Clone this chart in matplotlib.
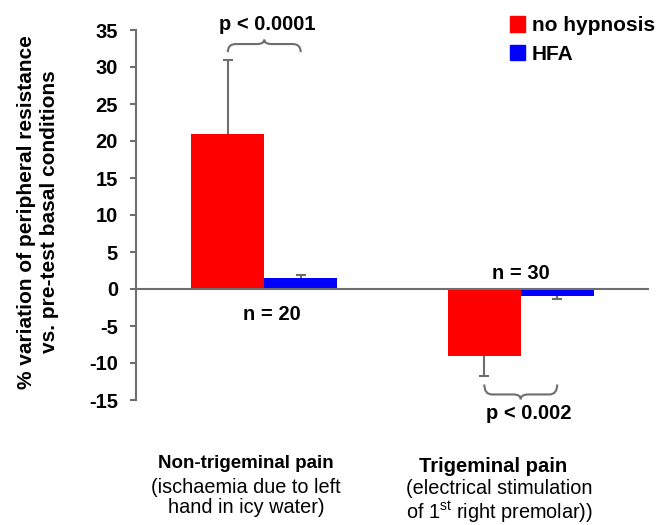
import matplotlib
matplotlib.use("Agg")
import matplotlib.pyplot as plt
import numpy as np
from matplotlib.path import Path
from matplotlib.patches import PathPatch, Patch

plt.rcParams["font.family"] = ["Liberation Sans", "DejaVu Sans"]
plt.rcParams["mathtext.fontset"] = "custom"
plt.rcParams["mathtext.rm"] = "Liberation Sans"
plt.rcParams["axes.unicode_minus"] = False

# data
groups = ["Non-trigeminal pain", "Trigeminal pain"]
group_notes = ["(ischaemia due to left\nhand in icy water)",
               "(electrical stimulation\nof 1$^{\\mathrm{st}}$ right premolar))"]
series = ["no hypnosis", "HFA"]
no_hypnosis = [21.0, -9.0]
no_hypnosis_err = [10.0, 2.8]
hfa = [1.5, -1.0]
hfa_err = [0.4, 0.35]
n_labels = ["n = 20", "n = 30"]
p_labels = ["p < 0.0001", "p < 0.002"]

GRAY = "#6e6e6e"


def brace(ax, x0, x1, y_end, y_mid, y_tip, dx=0.03):
    xm = (x0 + x1) / 2
    verts = [(x0, y_end), (x0, y_mid), (x0 + dx, y_mid),
             (xm - dx, y_mid), (xm, y_mid), (xm, y_tip),
             (xm, y_mid), (xm + dx, y_mid),
             (x1 - dx, y_mid), (x1, y_mid), (x1, y_end)]
    codes = [Path.MOVETO, Path.CURVE3, Path.CURVE3,
             Path.LINETO, Path.CURVE3, Path.CURVE3,
             Path.CURVE3, Path.CURVE3,
             Path.LINETO, Path.CURVE3, Path.CURVE3]
    ax.add_patch(PathPatch(Path(verts, codes), fc="none", ec=GRAY, lw=1.5,
                           clip_on=False, zorder=4))


fig = plt.figure(figsize=(6.57, 5.25), dpi=100)
ax = fig.add_axes([136 / 657, 1 - 400 / 525, 513 / 657, 370 / 525])

x = np.arange(len(groups))
w = 0.284
ax.bar(x - w / 2, no_hypnosis, w, color="#ff0000", zorder=2)
ax.bar(x + w / 2, hfa, w, color="#0000ff", zorder=2)
ax.errorbar(x - w / 2, no_hypnosis, yerr=no_hypnosis_err, fmt="none",
            ecolor=GRAY, elinewidth=1.5, capsize=3.5, capthick=1.5, zorder=1)
ax.errorbar(x + w / 2, hfa, yerr=hfa_err, fmt="none",
            ecolor=GRAY, elinewidth=1.5, capsize=3.5, capthick=1.5, zorder=1)
ax.axhline(0, color=GRAY, lw=1.5, zorder=3)

ax.set_xlim(-0.5, 1.5)
ax.set_ylim(-15, 35)
ax.set_yticks(range(-15, 36, 5))
ax.set_xticks([])
for s in ["top", "right", "bottom"]:
    ax.spines[s].set_visible(False)
ax.spines["left"].set_color(GRAY)
ax.spines["left"].set_linewidth(1.5)
ax.tick_params(axis="y", direction="out", length=4.5, width=1.5, color=GRAY,
               labelsize=14.5, pad=8.5)
for t in ax.get_yticklabels():
    t.set_fontweight("bold")

fig.text(38 / 657, 1 - 212 / 525,
         "% variation of peripheral resistance\nvs. pre-test basal conditions",
         rotation=90, ha="center", va="center", fontsize=15,
         fontweight="bold", linespacing=1.25)

# annotations
brace(ax, -w / 2, w / 2, 32.0, 33.1, 33.7)
ax.text(0.01, 35.7, p_labels[0], ha="center", va="center", fontsize=14.5,
        fontweight="bold", clip_on=False)
brace(ax, 1 - w / 2, 1 + w / 2, -12.9, -14.25, -14.9)
ax.text(1.03, -16.8, p_labels[1], ha="center", va="center", fontsize=14.5,
        fontweight="bold", clip_on=False)
ax.text(0.03, -3.4, n_labels[0], ha="center", va="center", fontsize=14.5,
        fontweight="bold")
ax.text(1.0, 2.1, n_labels[1], ha="center", va="center", fontsize=14.5,
        fontweight="bold")

# category labels (pixel layout of the reference)
title_x = [246, 493]
title_y = [463, 467]
title_size = [13.5, 14.6]
note_x = [246, 499]
note_y = [497.5, 502]
for i, (g, note) in enumerate(zip(groups, group_notes)):
    fig.text(title_x[i] / 657, 1 - title_y[i] / 525, g, ha="center",
             va="center", fontsize=title_size[i], fontweight="bold")
    fig.text(note_x[i] / 657, 1 - note_y[i] / 525, note, ha="center",
             va="center", fontsize=14.3, linespacing=1.12)

handles = [Patch(color="#ff0000"), Patch(color="#0000ff")]
ax.legend(handles, series, loc="upper right", bbox_to_anchor=(1.003, 0.977),
          bbox_transform=fig.transFigure, frameon=False, handlelength=0.75,
          handleheight=0.75, handletextpad=0.3, labelspacing=0.45,
          borderaxespad=0.0, borderpad=0.2, prop={"weight": "bold", "size": 15})

fig.savefig("out.png", dpi=100)
